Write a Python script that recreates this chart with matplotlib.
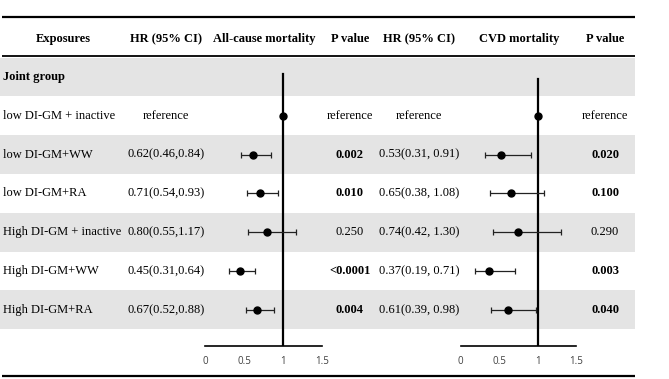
import numpy as np
import matplotlib.pyplot as plt

plt.rcParams['font.family'] = ['Liberation Serif', 'DejaVu Serif']

# table content
groups = ["Joint group", "low DI-GM + inactive", "low DI-GM+WW", "low DI-GM+RA",
          "High DI-GM + inactive", "High DI-GM+WW", "High DI-GM+RA"]
hr_all_txt = ["", "reference", "0.62(0.46,0.84)", "0.71(0.54,0.93)", "0.80(0.55,1.17)",
              "0.45(0.31,0.64)", "0.67(0.52,0.88)"]
p_all = ["", "reference", "0.002", "0.010", "0.250", "<0.0001", "0.004"]
p_all_bold = [False, False, True, True, False, True, True]
hr_cvd_txt = ["", "reference", "0.53(0.31, 0.91)", "0.65(0.38, 1.08)", "0.74(0.42, 1.30)",
              "0.37(0.19, 0.71)", "0.61(0.39, 0.98)"]
p_cvd = ["", "reference", "0.020", "0.100", "0.290", "0.003", "0.040"]
p_cvd_bold = [False, False, True, True, False, True, True]

# forest values (row 0 is the group heading)
all_hr = [np.nan, 1.00, 0.62, 0.71, 0.80, 0.45, 0.67]
all_lo = [np.nan, 1.00, 0.46, 0.54, 0.55, 0.31, 0.52]
all_hi = [np.nan, 1.00, 0.84, 0.93, 1.17, 0.64, 0.88]
cvd_hr = [np.nan, 1.00, 0.53, 0.65, 0.74, 0.37, 0.61]
cvd_lo = [np.nan, 1.00, 0.31, 0.38, 0.42, 0.19, 0.39]
cvd_hi = [np.nan, 1.00, 0.91, 1.08, 1.30, 0.71, 0.98]
ticks = [0, 0.5, 1, 1.5]
shaded = [0, 2, 4, 6]

W, H = 669, 379
fig = plt.figure(figsize=(W / 100, H / 100), dpi=100)

# background table axes in pixel units
tab = fig.add_axes([0, 0, 1, 1])
tab.set_xlim(0, W)
tab.set_ylim(H, 0)
tab.axis('off')

y0, pitch = 77, 38.8
row_y = [y0 + pitch * i for i in range(len(groups))]
for i in shaded:
    tab.axhspan(row_y[i] - pitch / 2, row_y[i] + pitch / 2, xmin=0, xmax=635 / W,
                color='#e4e4e4', lw=0, zorder=0)

tab.hlines(17, 2, 635, color='black', lw=1.6)
tab.hlines(56, 2, 635, color='black', lw=1.3)
tab.hlines(376, 2, 635, color='black', lw=1.6)

hdr_y = 39
fs = 9
tab.text(63, hdr_y, "Exposures", ha='center', va='center', fontsize=fs, fontweight='bold')
tab.text(166, hdr_y, "HR (95% CI)", ha='center', va='center', fontsize=fs, fontweight='bold')
tab.text(264, hdr_y, "All-cause mortality", ha='center', va='center', fontsize=fs, fontweight='bold')
tab.text(350, hdr_y, "P value", ha='center', va='center', fontsize=fs, fontweight='bold')
tab.text(419, hdr_y, "HR (95% CI)", ha='center', va='center', fontsize=fs, fontweight='bold')
tab.text(519, hdr_y, "CVD mortality", ha='center', va='center', fontsize=fs, fontweight='bold')
tab.text(605, hdr_y, "P value", ha='center', va='center', fontsize=fs, fontweight='bold')

for i, y in enumerate(row_y):
    tab.text(3, y, groups[i], ha='left', va='center', fontsize=fs,
             fontweight='bold' if i == 0 else 'normal')
    tab.text(166, y, hr_all_txt[i], ha='center', va='center', fontsize=fs)
    tab.text(350, y, p_all[i], ha='center', va='center', fontsize=fs,
             fontweight='bold' if p_all_bold[i] else 'normal')
    tab.text(419, y, hr_cvd_txt[i], ha='center', va='center', fontsize=fs)
    tab.text(605, y, p_cvd[i], ha='center', va='center', fontsize=fs,
             fontweight='bold' if p_cvd_bold[i] else 'normal')

# forest panels
top_px, bot_px = 56, 346
ylo = (bot_px - y0) / pitch
yhi = (top_px - y0) / pitch


def forest(x_left, x_right, hr, lo, hi, line_top):
    ax = fig.add_axes([x_left / W, 1 - bot_px / H, (x_right - x_left) / W, (bot_px - top_px) / H])
    ax.patch.set_alpha(0)
    ax.set_xlim(0, 1.5)
    ax.set_ylim(ylo, yhi)
    rows = np.arange(len(hr))
    hr = np.array(hr)
    err = [hr - np.array(lo), np.array(hi) - hr]
    ax.errorbar(hr, rows, xerr=err, fmt='o', color='black', ms=5, elinewidth=0.9,
                capsize=2.5, capthick=0.9, ecolor='#222222', zorder=3)
    ax.axvline(1, ymin=0, ymax=(bot_px - line_top) / (bot_px - top_px), color='black', lw=1.6)
    for s in ['top', 'right', 'left']:
        ax.spines[s].set_visible(False)
    ax.spines['bottom'].set_linewidth(1.2)
    ax.set_yticks([])
    ax.set_xticks(ticks)
    ax.set_xticklabels([f"{t:g}" for t in ticks], fontsize=7, family='Open Sans', color='#404040')
    ax.tick_params(axis='x', length=0, pad=7)
    return ax


forest(205, 322, all_hr, all_lo, all_hi, 74)
forest(460.7, 576, cvd_hr, cvd_lo, cvd_hi, 79)

fig.savefig('out.png', dpi=100)
